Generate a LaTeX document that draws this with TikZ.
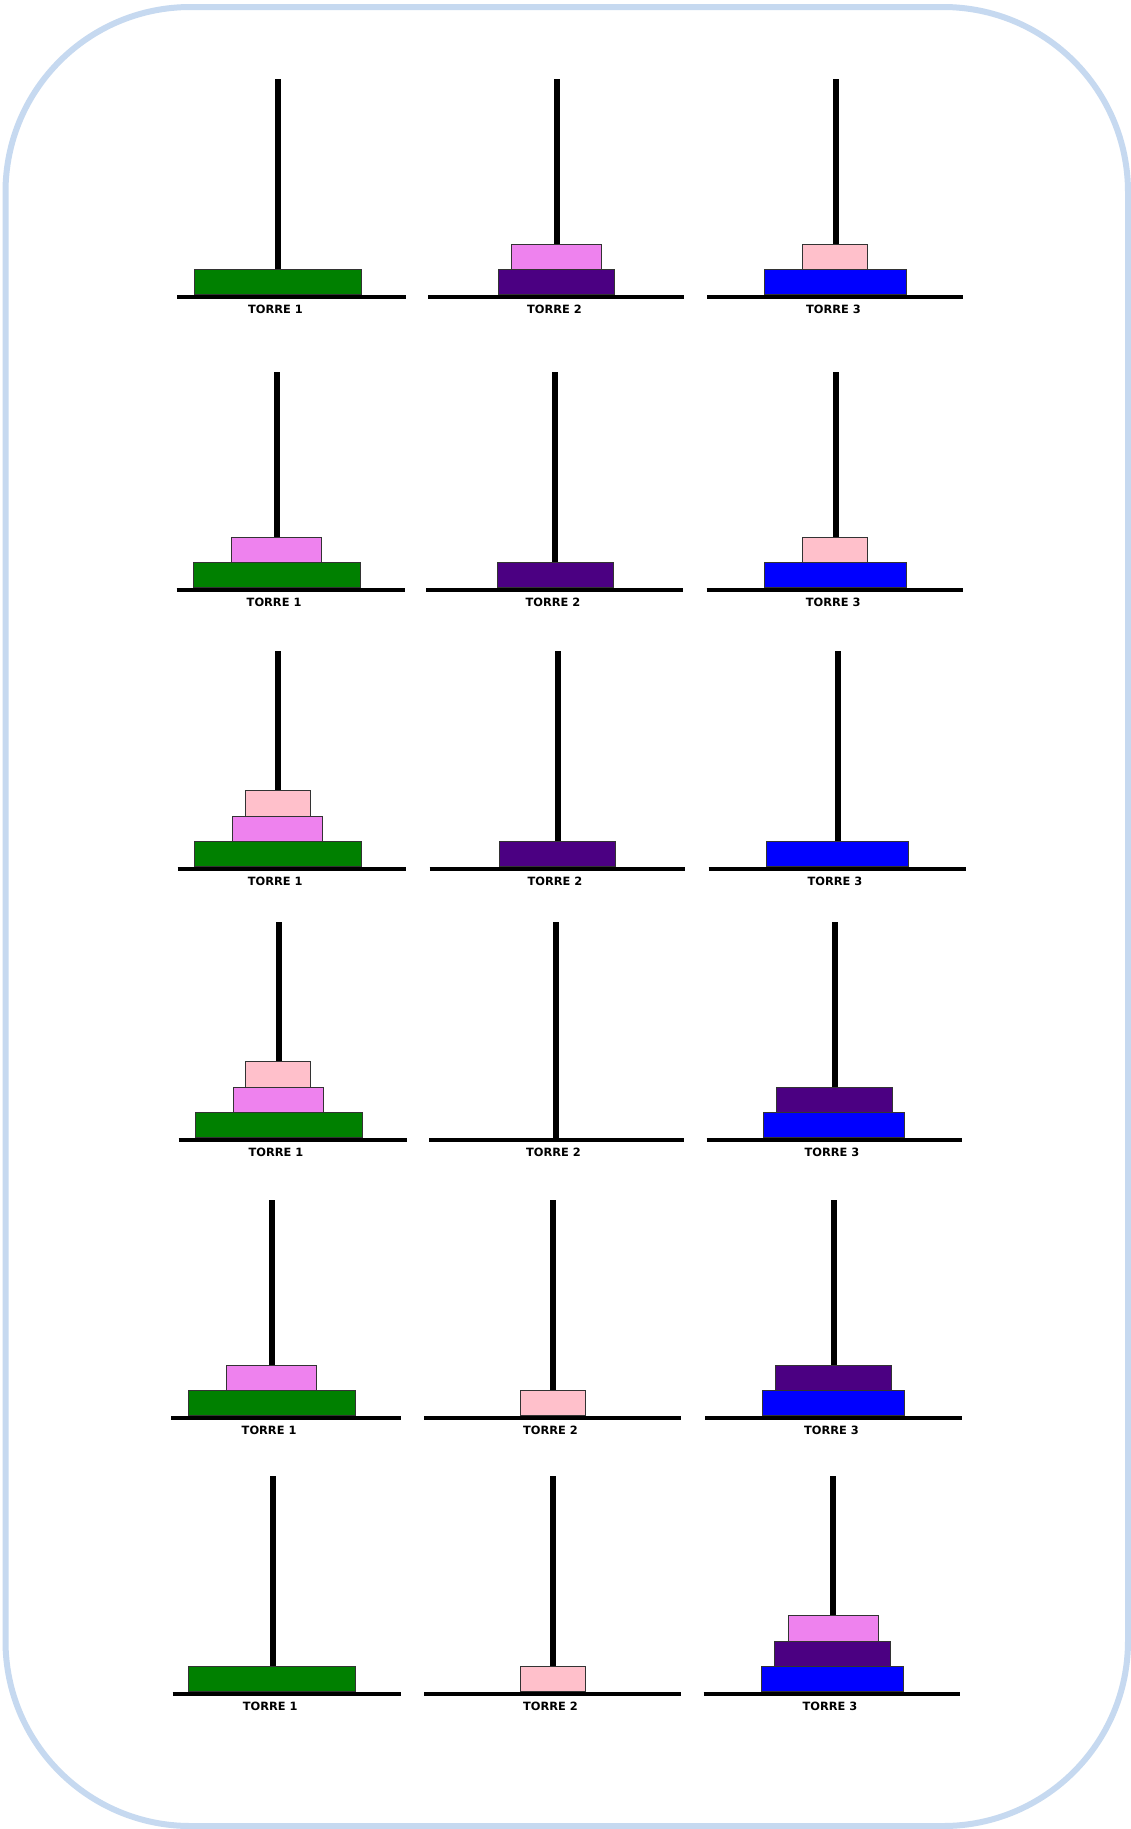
\documentclass[tikz,border=0pt]{standalone}
\usepackage{fontspec}
\newfontfamily\lblfont{DejaVu Sans}
\definecolor{hnGreen}{HTML}{008000}
\definecolor{hnViolet}{HTML}{EE82EE}
\definecolor{hnIndigo}{HTML}{4B0082}
\definecolor{hnBlue}{HTML}{0000FF}
\definecolor{hnPink}{HTML}{FFC0CB}
\definecolor{hnBorder}{HTML}{C6D9F0}
\tikzset{
  pole/.style={line width=6pt, black},
  baseline/.style={line width=4.6pt, black},
  disk/.style={draw=black!80, line width=1pt},
  lbl/.style={inner sep=0pt, font=\lblfont\bfseries\fontsize{11.4}{13}\selectfont}
}
% #1 pole x, #2 base y, #3 left extent, #4 right extent, #5 label, #6 node name
\newcommand\hnTower[6]{%
  \draw[pole] (#1,#2-218) -- (#1,#2);
  \draw[baseline] (#1-#3,#2) -- (#1+#4,#2);
  \node[lbl] (#6) at (#1-2.5,#2+12) {#5};
}
% #1 pole x, #2 base y, #3 level, #4 width, #5 colour
\newcommand\hnDisk[5]{%
  \filldraw[disk, fill=#5] (#1-#4/2,#2-2.4-#3*25.3) rectangle (#1+#4/2,#2-2.4-#3*25.3-25.3);
}
\begin{document}
\begin{tikzpicture}[x=1pt,y=-1pt]
\useasboundingbox (0,0) rectangle (1131,1829);
\fill[white] (0,0) rectangle (1131,1829);
\draw[hnBorder, line width=6pt, rounded corners=185pt] (5.5,7) rectangle (1128,1826);

% Row 1
\hnTower{278}{297}{101}{128}{TORRE 1}{r1t1}
\hnTower{557}{297}{129}{127}{TORRE 2}{r1t2}
\hnTower{836}{297}{129}{127}{TORRE 3}{r1t3}
\hnDisk{278}{297}{0}{167}{hnGreen}
\hnDisk{556}{297}{0}{116}{hnIndigo}
\hnDisk{556}{297}{1}{90}{hnViolet}
\hnDisk{835}{297}{0}{142}{hnBlue}
\hnDisk{835}{297}{1}{65}{hnPink}

% Row 2
\hnTower{276.6}{590}{100}{128}{TORRE 1}{r2t1}
\hnTower{555.4}{590}{129}{128}{TORRE 2}{r2t2}
\hnTower{835.7}{590}{129}{127}{TORRE 3}{r2t3}
\hnDisk{276.5}{590}{0}{167}{hnGreen}
\hnDisk{276}{590}{1}{90}{hnViolet}
\hnDisk{555}{590}{0}{116}{hnIndigo}
\hnDisk{835}{590}{0}{142}{hnBlue}
\hnDisk{834.5}{590}{1}{65}{hnPink}

% Row 3
\hnTower{277.7}{869}{100}{128}{TORRE 1}{r3t1}
\hnTower{557.5}{869}{128}{127}{TORRE 2}{r3t2}
\hnTower{837.5}{869}{129}{128}{TORRE 3}{r3t3}
\hnDisk{277.7}{869}{0}{167}{hnGreen}
\hnDisk{277.7}{869}{1}{90}{hnViolet}
\hnDisk{277.5}{869}{2}{65}{hnPink}
\hnDisk{557.8}{869}{0}{116}{hnIndigo}
\hnDisk{837.3}{869}{0}{142}{hnBlue}

% Row 4
\hnTower{278.5}{1140}{100}{128}{TORRE 1}{r4t1}
\hnTower{556}{1140}{127}{128}{TORRE 2}{r4t2}
\hnTower{834.5}{1140}{128}{127}{TORRE 3}{r4t3}
\hnDisk{278.5}{1140}{0}{167}{hnGreen}
\hnDisk{278.3}{1140}{1}{90}{hnViolet}
\hnDisk{278.3}{1140}{2}{65}{hnPink}
\hnDisk{834}{1140}{0}{141}{hnBlue}
\hnDisk{834.2}{1140}{1}{116}{hnIndigo}

% Row 5
\hnTower{271.6}{1418}{100.6}{129}{TORRE 1}{r5t1}
\hnTower{553}{1418}{129}{128}{TORRE 2}{r5t2}
\hnTower{834}{1418}{129}{128}{TORRE 3}{r5t3}
\hnDisk{271.6}{1418}{0}{167}{hnGreen}
\hnDisk{271.4}{1418}{1}{90}{hnViolet}
\hnDisk{552.5}{1418}{0}{65}{hnPink}
\hnDisk{833.3}{1418}{0}{142}{hnBlue}
\hnDisk{833.3}{1418}{1}{116}{hnIndigo}

% Row 6
\hnTower{272.7}{1694}{100}{128}{TORRE 1}{r6t1}
\hnTower{553}{1694}{129}{128}{TORRE 2}{r6t2}
\hnTower{832.5}{1694}{129}{127}{TORRE 3}{r6t3}
\hnDisk{272.4}{1694}{0}{167}{hnGreen}
\hnDisk{552.5}{1694}{0}{65}{hnPink}
\hnDisk{832.5}{1694}{0}{142}{hnBlue}
\hnDisk{832.7}{1694}{1}{116}{hnIndigo}
\hnDisk{833}{1694}{2}{90}{hnViolet}
\end{tikzpicture}
\end{document}
